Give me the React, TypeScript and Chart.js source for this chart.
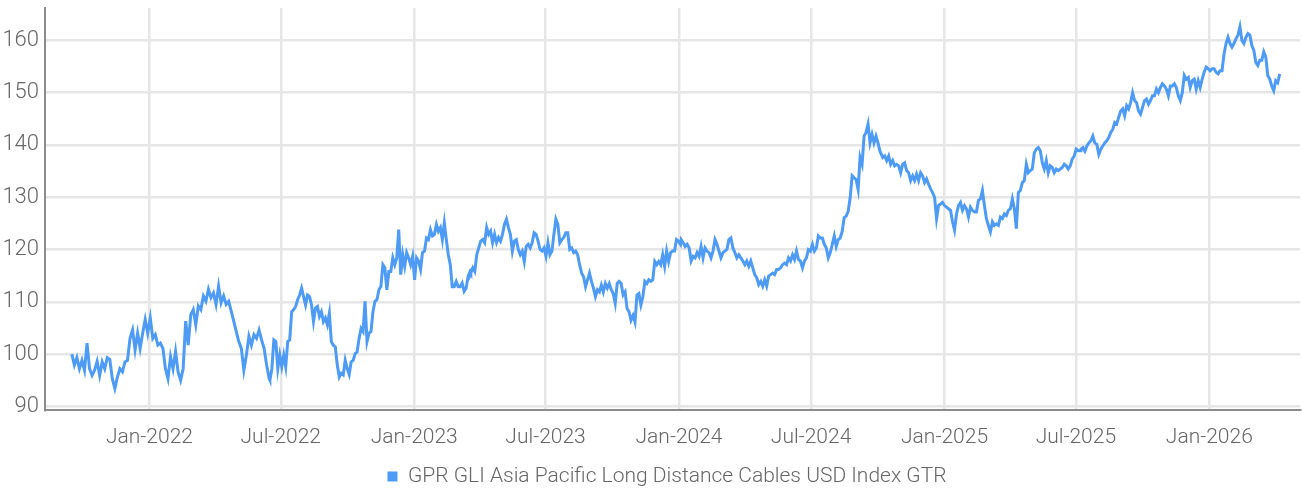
import React, { useEffect, useRef } from "react";
import { Chart, registerables } from "chart.js";

Chart.register(...registerables);

const SERIES_LABEL = "GPR GLI Asia Pacific Long Distance Cables USD Index GTR";

const X_TICK_DATES = [
  "2022-01-01", "2022-07-01", "2023-01-01", "2023-07-01", "2024-01-01",
  "2024-07-01", "2025-01-01", "2025-07-01", "2026-01-01",
];
const X_TICK_LABELS = [
  "Jan-2022", "Jul-2022", "Jan-2023", "Jul-2023", "Jan-2024",
  "Jul-2024", "Jan-2025", "Jul-2025", "Jan-2026",
];
const Y_TICKS = [90, 100, 110, 120, 130, 140, 150, 160];

// Index values, in date segments (start, end, values)
const SEG_A_DATES = ["2021-09-16", "2022-06-15"];
const SEG_A = [100, 97.9, 99.3, 97.2, 98.8, 96.9, 102.1, 97.2, 95.9, 96.9, 98.6, 95.9, 98.5, 97.2, 99.3, 99, 95.3, 93.4, 95.6, 97.2, 96.6, 98.5, 98.8, 103, 104.6, 100.8, 104, 101.1, 104, 106.6, 104, 106.9, 103, 103.7, 101.7, 102.1, 101.1, 97.2, 95.3, 99.5, 97.2, 100.5, 96.6, 95, 97.2, 106.3, 101.7, 107.5, 108.5, 105.6, 109.2, 108.5, 111.1, 110.1, 112.4, 110.8, 111.7, 109.5, 113, 109.8, 111.1, 109.5, 110.1, 108.2, 106.3, 104.3, 102.4, 101.1, 96.9, 99.8, 103.4, 101.7, 103.7, 103, 104.6, 102.7, 101.1, 97.9, 95.3];

const SEG_B_DATES = ["2022-06-16", "2023-03-19"];
const SEG_B = [95.0, 97.2, 102.7, 102.4, 97.2, 99.8, 97.6, 99.8, 97.6, 102.4, 102.7, 108.1, 108.5, 109.1, 110.4, 111.3, 112.6, 111, 109.4, 111.3, 111, 109.4, 106.2, 108.8, 109.1, 107.2, 108.1, 106.2, 106.9, 105.6, 107.8, 102.4, 101.7, 101.4, 97.9, 95.6, 96.3, 96, 98.8, 97.2, 96.1, 98.5, 98.8, 100.1, 100.4, 103, 104.9, 104.3, 110.1, 102.4, 104, 104.3, 108.1, 110.1, 110.4, 112.3, 112.9, 117.1, 116.5, 112.3, 115.8, 115.8, 118.4, 117.1, 118.4, 123.8, 115.2, 119, 116.8, 119.4, 118.4, 117.1, 118.7, 114.2, 118.4, 117.8, 116.2, 119.4, 119.7, 122.2, 121.9, 123.8, 122.6, 122.9, 124.8, 123.5, 124.2, 121.9, 125.1, 121.9, 119, 117.1, 112.9, 112.9, 113.9, 112.9, 112.9, 113.6, 112, 112.6, 114.9, 115.8];

const SEG_C_DATES = ["2023-03-20", "2024-01-03"];
const SEG_C = [115.5, 116.5, 115.8, 119, 120.3, 121.6, 121.9, 121.3, 124.2, 122.9, 123.5, 121.3, 122.9, 121.3, 122.3, 121.6, 122.9, 124.8, 125.8, 124.2, 122.9, 119.7, 121.6, 121.9, 120, 119, 119.7, 117.7, 120.6, 121, 120.3, 121.3, 123.2, 122.9, 121.6, 120, 119.7, 120.3, 118.7, 121.3, 119, 119.7, 122.9, 125.8, 124.8, 121.3, 121.9, 122.3, 123.2, 123.2, 120, 120.3, 119.4, 119.7, 119, 117.1, 115.5, 114.8, 112.9, 114.2, 115.5, 113.9, 112.6, 111, 112.3, 111.9, 113.2, 111.9, 113.5, 112.6, 113.5, 112.3, 111.6, 109.7, 113.5, 113.9, 113.5, 111.3, 111.9, 108.7, 108.1, 106.5, 107.4, 106.1, 111.3, 111.6, 109.4, 111, 113.9, 113.5, 114.2, 113.9, 114.2, 117.7, 117.1, 117.7, 117.1, 119, 116.8, 119.7, 117.7, 119.4, 119.7, 119.7, 121.9, 121.6, 121];

const SEG_D_DATES = ["2024-01-04", "2024-10-04"];
const SEG_D = [121.9, 121.3, 120.6, 121, 120.3, 117.8, 118.7, 118.4, 119.4, 118.7, 120.6, 118.4, 120.3, 119.7, 119.4, 118.4, 119.7, 121.9, 121, 119.7, 118.4, 119.4, 119.7, 120, 121.9, 122.2, 120.3, 119.4, 118.4, 119, 118.4, 117.8, 117.1, 117.8, 116.8, 117.8, 116.5, 115.2, 114.6, 113.3, 113.9, 113, 114.2, 113, 114.9, 115.2, 115.5, 115.2, 116.2, 116.2, 116.5, 117.1, 117.4, 117.1, 118.4, 117.8, 119, 118.1, 119.7, 118.1, 117.8, 116.5, 117.8, 118.4, 120, 119.7, 121, 119.7, 120.3, 122.6, 122.2, 122.2, 121, 120.3, 118.4, 119.4, 121, 122.6, 120.6, 121.9, 122.2, 123.5, 126.1, 126.4, 127.3, 129.9, 134.1, 133.7, 133.4, 131.5, 137.6, 136.3, 141.7, 142.4, 144, 140.4, 142, 140.4, 141.7, 140.4, 138.8];

const SEG_E_DATES = ["2024-10-05", "2025-07-07"];
const SEG_E = [138.5, 137.6, 137.9, 137, 137.9, 136.3, 137, 136, 136.3, 136, 134.7, 136.3, 136.6, 135.1, 134.7, 133.2, 134.1, 133.2, 134.4, 133.2, 134.7, 134.1, 132.8, 133.5, 132.5, 131.6, 130.9, 130, 125.9, 128.4, 128.7, 129, 128.4, 128.1, 127.8, 127.5, 125.3, 123.7, 126.8, 128.4, 129, 127.5, 128.4, 127.8, 126.2, 128.1, 127.5, 127.2, 127.2, 129.4, 129.7, 131.3, 128.4, 125.9, 124.6, 123.4, 125.3, 124.6, 124.9, 124.6, 126.2, 125.9, 126.8, 126.5, 127.5, 127.8, 129.7, 127.8, 124, 130.9, 131.3, 132.8, 133.2, 136.3, 134.7, 135.1, 135.4, 138.5, 139.2, 139.5, 138.9, 136.6, 135.4, 137, 134.7, 136, 135.7, 134.7, 135.4, 135.1, 135.4, 135.7, 136.3, 136, 135.4, 136, 137.3, 137.9, 139.2, 138.9, 138.9];

const SEG_F_DATES = ["2025-07-08", "2026-04-08"];
const SEG_F = [139.2, 139.5, 138.8, 139.8, 140.4, 140.8, 141.7, 140.4, 140.1, 138.2, 139.2, 139.8, 140.4, 140.8, 141.4, 142.4, 143, 144.3, 144, 145.3, 146.5, 146.9, 145.6, 147.5, 146.9, 148.1, 150, 148.5, 148.1, 146.5, 145.9, 147.2, 148.5, 148.8, 147.8, 148.5, 149.4, 149.4, 150.7, 150, 151, 151.7, 151.3, 150.7, 149.4, 151.3, 151.3, 151.7, 151, 149.4, 148.5, 150, 153.3, 152.6, 152.9, 151, 152.3, 152.6, 150.7, 152.3, 151, 152.6, 153.9, 154.9, 154.6, 154.2, 154.6, 154.6, 153.9, 153.6, 154.2, 154.2, 157.4, 159.4, 160.6, 159.4, 158.7, 159.4, 160.3, 161, 162.6, 160, 159.4, 160.6, 161.3, 161, 159, 158.1, 155.8, 155.2, 156.2, 156.2, 157.8, 156.8, 153.3, 152.6, 151.3, 150.4, 152.3, 151.9, 153.6];

const X_RANGE = ["2021-08-10", "2026-05-06"];
const Y_RANGE = [89.3, 166.2];

const LINE_COLOR = "#4d9bf5";
const TEXT_COLOR = "#666666";
const GRID_COLOR = "#e6e6e6";
const AXIS_COLOR = "#8c8c8c";
const FONT = "Roboto, 'DejaVu Sans Condensed', sans-serif";
const LEGEND_SHIFT = 17;

const DAY_MS = 86400000;
function toDay(s: string): number {
  const [y, m, d] = s.split("-").map(Number);
  return Date.UTC(y, m - 1, d) / DAY_MS;
}

function buildPoints() {
  const segs: [string[], number[]][] = [
    [SEG_A_DATES, SEG_A],
    [SEG_B_DATES, SEG_B],
    [SEG_C_DATES, SEG_C],
    [SEG_D_DATES, SEG_D],
    [SEG_E_DATES, SEG_E],
    [SEG_F_DATES, SEG_F],
  ];
  const pts: { x: number; y: number }[] = [];
  for (const [dates, vals] of segs) {
    const s = toDay(dates[0]);
    const e = toDay(dates[1]);
    const n = vals.length;
    vals.forEach((v, i) => {
      pts.push({ x: s + ((e - s) * i) / (n - 1), y: v });
    });
  }
  return pts;
}

const legendShiftPlugin = {
  id: "legendShift",
  afterLayout(chart: any) {
    if (chart.legend) {
      chart.legend.left += LEGEND_SHIFT;
      chart.legend.right += LEGEND_SHIFT;
    }
  },
};

export default function App() {
  const ref = useRef<HTMLCanvasElement | null>(null);

  useEffect(() => {
    document.body.style.margin = "0";
    const canvas = ref.current;
    if (!canvas) return;
    const chart = new Chart(canvas, {
      type: "line",
      plugins: [legendShiftPlugin],
      data: {
        datasets: [
          {
            label: SERIES_LABEL,
            data: buildPoints(),
            borderColor: LINE_COLOR,
            backgroundColor: LINE_COLOR,
            borderWidth: 3,
            pointRadius: 0,
            tension: 0,
            fill: false,
          },
        ],
      },
      options: {
        responsive: false,
        animation: false,
        parsing: false,
        layout: { padding: { top: 8, right: 2, left: 0, bottom: -4 } },
        plugins: {
          tooltip: { enabled: false },
          legend: {
            position: "bottom",
            labels: {
              color: TEXT_COLOR,
              font: { family: FONT, size: 21, weight: "300" },
              boxWidth: 10,
              boxHeight: 10,
              padding: 10,
              generateLabels: () => [
                {
                  text: SERIES_LABEL,
                  fillStyle: LINE_COLOR,
                  strokeStyle: LINE_COLOR,
                  lineWidth: 0,
                  hidden: false,
                  datasetIndex: 0,
                  fontColor: TEXT_COLOR,
                } as any,
              ],
            },
          },
        },
        scales: {
          x: {
            type: "linear",
            min: toDay(X_RANGE[0]),
            max: toDay(X_RANGE[1]),
            afterBuildTicks: (scale: any) => {
              scale.ticks = X_TICK_DATES.map((d) => ({ value: toDay(d) }));
            },
            afterFit: (scale: any) => {
              scale.height = 46;
              scale.paddingLeft = 0;
              scale.paddingRight = 0;
            },
            ticks: {
              autoSkip: false,
              maxRotation: 0,
              padding: 15,
              color: TEXT_COLOR,
              font: { family: FONT, size: 21, weight: "300" },
              callback: (_v: any, i: number) => X_TICK_LABELS[i],
            },
            grid: { color: GRID_COLOR, lineWidth: 2.5, drawTicks: false },
            border: { display: true, color: AXIS_COLOR, width: 2 },
          },
          y: {
            type: "linear",
            min: Y_RANGE[0],
            max: Y_RANGE[1],
            afterBuildTicks: (scale: any) => {
              scale.ticks = Y_TICKS.map((v) => ({ value: v }));
            },
            afterFit: (scale: any) => {
              scale.width = 45;
              scale.paddingTop = 0;
              scale.paddingBottom = 0;
            },
            ticks: {
              padding: 6,
              color: TEXT_COLOR,
              font: { family: FONT, size: 22, weight: "300" },
              callback: (_v: any, i: number) => String(Y_TICKS[i]),
            },
            grid: { color: GRID_COLOR, lineWidth: 2.5, drawTicks: false },
            border: { display: true, color: AXIS_COLOR, width: 2 },
          },
        },
      },
    });
    return () => chart.destroy();
  }, []);

  return (
    <div style={{ width: 1302, height: 493 }}>
      <canvas ref={ref} width={1302} height={493} style={{ display: "block" }} />
    </div>
  );
}
